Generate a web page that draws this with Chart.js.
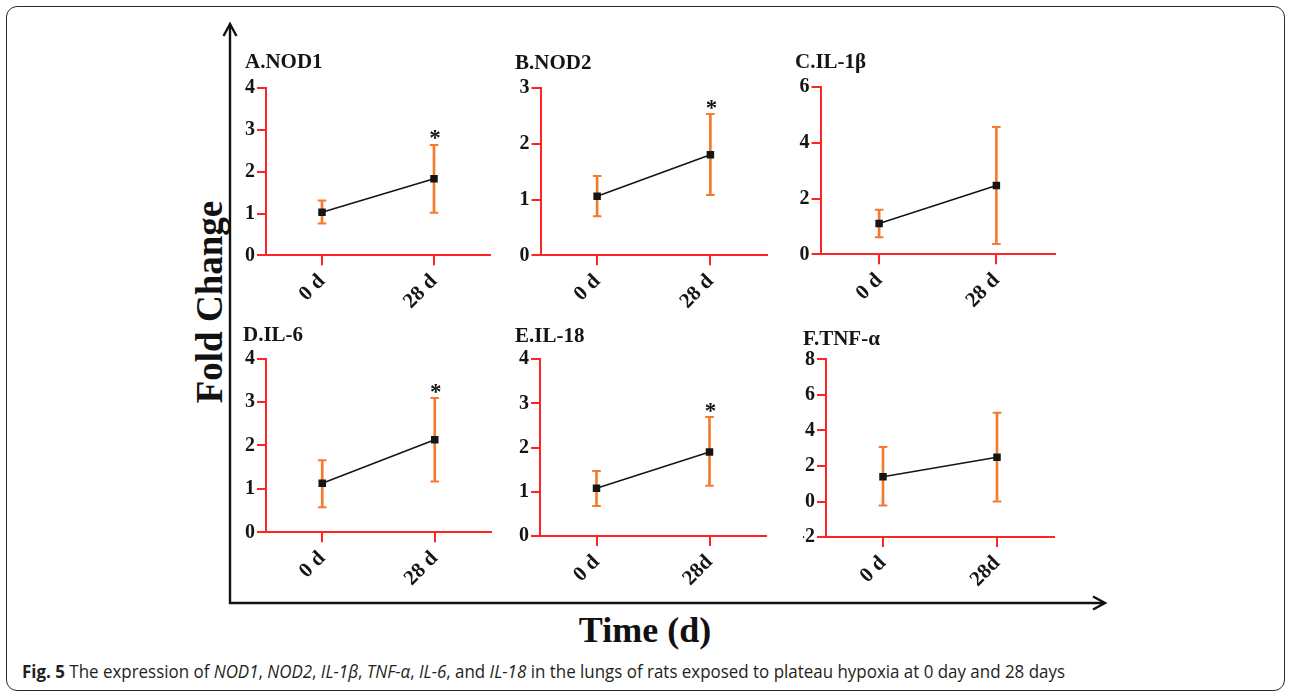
<!DOCTYPE html>
<html>
<head>
<meta charset="utf-8">
<script src="https://cdn.jsdelivr.net/npm/chart.js@4.4.1/dist/chart.umd.min.js"></script>
<style>
  html, body { margin: 0; padding: 0; background: #fff; }
  #stage { position: relative; width: 1292px; height: 697px; overflow: hidden; background: #fff; }
  #frame { position: absolute; left: 6px; top: 6px; width: 1279px; height: 685px;
           border: 1.5px solid #2a2a2a; border-radius: 11px; box-sizing: border-box; }
  .panel { position: absolute; }
  .panel canvas { display: block; }
  #ylab { position: absolute; left: 209px; top: 302px; white-space: nowrap;
          font: bold 37px/37px "Liberation Serif", "Times New Roman", serif; color: #111;
          transform: translate(-50%, -50%) rotate(-90deg); }
  #xlab { position: absolute; left: 645px; top: 612px; white-space: nowrap;
          font: bold 36px/36px "Liberation Serif", "Times New Roman", serif; color: #111;
          transform: translateX(-50%); }
  #caption { position: absolute; left: 22px; top: 661px; white-space: nowrap;
             font: 18px/20px "Liberation Sans Narrow", "Open Sans", sans-serif; color: #231f20;
             transform-origin: 0 0; }
  #caption b { font-weight: bold; }
  svg { position: absolute; left: 0; top: 0; }
</style>
</head>
<body>
<div id="stage">
  <div id="frame"></div>
  <svg width="1292" height="697">
    <g stroke="#111" stroke-width="2.4" fill="none">
      <line x1="230" y1="604" x2="230" y2="25"/>
      <polyline points="223.5,36 230,24 236.5,36"/>
      <line x1="229" y1="603" x2="1104" y2="603"/>
      <polyline points="1093,596.5 1105,603 1093,609.5"/>
    </g>
  </svg>
  <div id="ylab">Fold Change</div>
  <div id="xlab">Time (d)</div>
  <div id="caption"><b>Fig. 5</b> The expression of <i>NOD1</i>, <i>NOD2</i>, <i>IL-1β</i>, <i>TNF-α</i>, <i>IL-6</i>, and <i>IL-18</i> in the lungs of rats exposed to plateau hypoxia at 0 day and 28 days</div>
</div>
<script>
// ---------------- data ----------------
const panelTitles = ['A.NOD1', 'B.NOD2', 'C.IL-1β', 'D.IL-6', 'E.IL-18', 'F.TNF-α'];
const timeLabels = [
  ['0 d', '28 d'], ['0 d', '28 d'], ['0 d', '28 d'],
  ['0 d', '28 d'], ['0 d', '28d'], ['0 d', '28d']
];
const meanValues  = [[1.03, 1.83], [1.06, 1.80], [1.11, 2.47], [1.13, 2.13], [1.08, 1.90], [1.40, 2.49]];
const lowerBounds = [[0.76, 1.02], [0.70, 1.08], [0.61, 0.37], [0.58, 1.17], [0.68, 1.14], [-0.22, 0.00]];
const upperBounds = [[1.31, 2.64], [1.42, 2.53], [1.60, 4.57], [1.66, 3.09], [1.47, 2.69], [3.07, 5.00]];
const starFlags   = [[false, true], [false, true], [false, false], [false, true], [false, true], [false, false]];
const yAxisMin  = [0, 0, 0, 0, 0, -2];
const yAxisMax  = [4, 3, 6, 4, 4, 8];
const yAxisStep = [1, 1, 2, 1, 1, 2];

// ---------------- layout (pixels) ----------------
// [plotLeft, plotRight, plotTop, plotBottom, titleLeft, titleGap]
const plotBoxes = [
  [266, 490, 88.3, 256, 245, 32.3],
  [540.5, 767, 87.7, 255, 515, 31],
  [820.5, 1055, 87.3, 255, 795, 31.3],
  [266, 491, 358.7, 532.3, 243, 29.7],
  [540, 766, 359.3, 536, 515, 29.3],
  [826, 1054, 359.3, 537.3, 803, 26.6]
];

const ORANGE = '#f57a2e';
const RED = '#ff2424';
const INK = '#151515';
const SERIF = '"Liberation Serif", "Times New Roman", Times, serif';

const starPlugin = {
  id: 'sigStars',
  afterDatasetsDraw(chart, args, opts) {
    const ctx = chart.ctx, xs = chart.scales.x, ys = chart.scales.y;
    (opts.flags || []).forEach((flag, j) => {
      if (!flag) return;
      const px = xs.getPixelForValue(j);
      const py = ys.getPixelForValue(opts.tops[j]);
      ctx.save();
      ctx.font = 'bold 23px ' + SERIF;
      ctx.fillStyle = INK;
      ctx.textAlign = 'center';
      ctx.textBaseline = 'alphabetic';
      ctx.fillText('*', px + 1, py + 0.5);
      ctx.restore();
    });
  }
};

function buildPanel(i) {
  const [L, R, T, B, TL, gap] = plotBoxes[i];
  const holder = document.createElement('div');
  holder.className = 'panel';
  const cv = document.createElement('canvas');
  holder.appendChild(cv);
  document.getElementById('stage').appendChild(holder);
  const W0 = Math.round(R - L) + 160, H0 = Math.round(B - T) + 150;
  cv.width = W0; cv.height = H0;
  cv.style.width = W0 + 'px'; cv.style.height = H0 + 'px';

  const chart = new Chart(cv, {
    type: 'bar',
    data: {
      labels: timeLabels[i],
      datasets: [
        { type: 'line', data: meanValues[i], borderColor: INK, borderWidth: 1.6,
          pointStyle: 'rect', pointRadius: 5.3, pointBackgroundColor: INK,
          pointBorderColor: INK, pointBorderWidth: 0, order: 0 },
        { type: 'line', data: upperBounds[i], showLine: false, pointStyle: 'line',
          pointRadius: 4.3, pointBorderColor: ORANGE, pointBorderWidth: 2, order: 1 },
        { type: 'line', data: lowerBounds[i], showLine: false, pointStyle: 'line',
          pointRadius: 4.3, pointBorderColor: ORANGE, pointBorderWidth: 2, order: 1 },
        { type: 'bar', data: lowerBounds[i].map((v, j) => [v, upperBounds[i][j]]),
          backgroundColor: ORANGE, barThickness: 2, grouped: false, borderWidth: 0, order: 2 }
      ]
    },
    options: {
      responsive: false,
      maintainAspectRatio: false,
      animation: false,
      events: [],
      layout: { padding: { left: 28, top: 2, right: 12, bottom: 8 } },
      plugins: {
        legend: { display: false },
        tooltip: { enabled: false },
        title: {
          display: true, text: panelTitles[i], align: 'start', color: INK,
          font: { family: SERIF, weight: 'bold', size: 21, lineHeight: 1.2 },
          padding: { top: 0, bottom: Math.max(0, gap - 19.4) }
        },
        sigStars: { flags: starFlags[i], tops: upperBounds[i] }
      },
      scales: {
        x: {
          type: 'category', offset: true,
          grid: { display: true, drawOnChartArea: false, drawTicks: true, tickLength: 10,
                  tickWidth: 2, tickColor: RED, color: RED, lineWidth: 2, offset: false },
          border: { display: true, color: RED, width: 2 },
          ticks: { color: INK, font: { family: SERIF, weight: 'bold', size: 21 },
                   minRotation: 45, maxRotation: 45, autoSkip: false, padding: 4 }
        },
        y: {
          type: 'linear', min: yAxisMin[i], max: yAxisMax[i],
          ticks: { stepSize: yAxisStep[i], color: INK, font: { family: SERIF, weight: 'bold', size: 20 }, padding: 2 },
          grid: { display: true, drawOnChartArea: false, drawTicks: true, tickLength: 9,
                  tickWidth: 2, tickColor: RED, color: RED, lineWidth: 2 },
          border: { display: true, color: RED, width: 2 },
          afterFit(s) { s.width = L - TL; }
        }
      }
    },
    plugins: [starPlugin]
  });

  const ca = chart.chartArea;
  const W = Math.round(ca.left + (R - L) + (W0 - ca.right));
  const H = Math.round(ca.top + (B - T) + (H0 - ca.bottom));
  chart.resize(W, H);
  const ca2 = chart.chartArea;
  holder.style.left = Math.round(L - ca2.left) + 'px';
  holder.style.top = Math.round(T - ca2.top) + 'px';
}

for (let i = 0; i < panelTitles.length; i++) buildPanel(i);

// fit caption width to the reference line length
const cap = document.getElementById('caption');
const cw = cap.getBoundingClientRect().width;
if (cw > 0) cap.style.transform = 'scaleX(' + (1043 / cw) + ')';
</script>
</body>
</html>
